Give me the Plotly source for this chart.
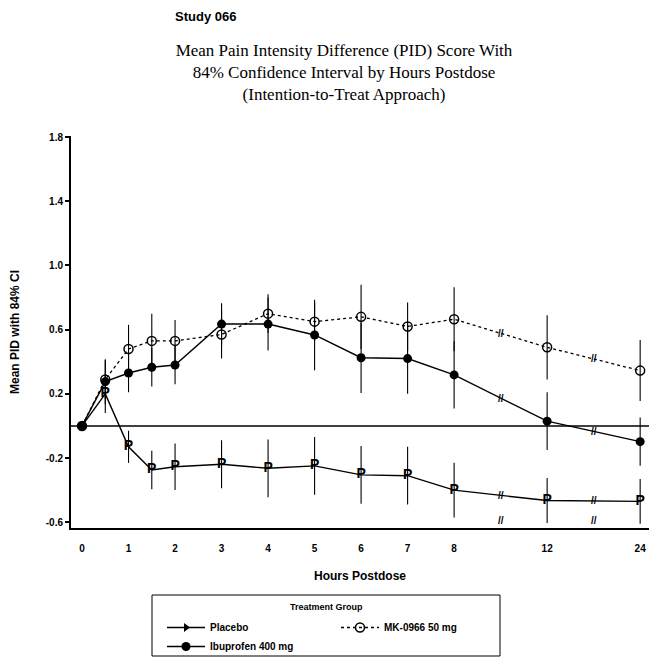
import plotly.graph_objects as go

# ---- data ----
hours = [0, 0.5, 1, 1.5, 2, 3, 4, 5, 6, 7, 8, 12, 24]
tick_hours = [0, 1, 2, 3, 4, 5, 6, 7, 8, 12, 24]

placebo = [0.0, 0.20, -0.13, -0.274, -0.254, -0.239, -0.264, -0.249, -0.305, -0.31, -0.40, -0.465, -0.47]
placebo_ci = [0.0, 0.12, 0.10, 0.12, 0.145, 0.15, 0.18, 0.18, 0.18, 0.18, 0.17, 0.14, 0.14]

ibuprofen = [0.0, 0.276, 0.33, 0.366, 0.38, 0.635, 0.635, 0.567, 0.425, 0.42, 0.318, 0.03, -0.098]
ibuprofen_ci = [0.0, 0.14, 0.12, 0.12, 0.12, 0.13, 0.165, 0.22, 0.22, 0.22, 0.21, 0.18, 0.15]

mk0966 = [0.0, 0.29, 0.48, 0.53, 0.53, 0.57, 0.70, 0.65, 0.68, 0.62, 0.665, 0.49, 0.345]
mk0966_ci = [0.0, 0.12, 0.15, 0.17, 0.13, 0.15, 0.12, 0.12, 0.2, 0.15, 0.2, 0.2, 0.19]


def axis_pos(h):
    # broken time axis: hours up to 8 are linear, 12 and 24 are placed 2 units apart
    if h <= 8:
        return h
    later = [t for t in tick_hours if t > 8]
    return 8 + 2 * (later.index(h) + 1)


xs = [axis_pos(h) for h in hours]
tick_pos = [axis_pos(h) for h in tick_hours]

BLACK = "black"
W, H = 649, 660
ML, MR, MT, MB = 71, 0, 136, 132
PW, PH = W - ML - MR, H - MT - MB


def px(x):  # pixel x -> paper x
    return (x - ML) / PW


def py(y):  # pixel y (from top) -> paper y
    return (H - MB - y) / PH


fig = go.Figure()

# zero reference line
fig.add_shape(type="line", xref="paper", x0=0, x1=1, yref="y", y0=0, y1=0,
              line=dict(color=BLACK, width=1.6))

# Placebo (line + error bars) drawn with "P" glyphs
fig.add_trace(go.Scatter(
    x=xs, y=placebo, mode="lines", showlegend=False,
    line=dict(color=BLACK, width=1.4),
    error_y=dict(type="data", array=placebo_ci, visible=True, color=BLACK, thickness=1.1, width=0),
))
fig.add_trace(go.Scatter(
    x=xs[1:], y=placebo[1:], mode="text", text=["P"] * (len(xs) - 1), showlegend=False,
    textfont=dict(family="Liberation Sans", size=14, color=BLACK, weight="bold"),
))
fig.add_trace(go.Scatter(
    x=[None], y=[None], mode="lines+markers", name="Placebo", legend="legend",
    line=dict(color=BLACK, width=1.4),
    marker=dict(symbol="triangle-right", size=8, color=BLACK),
))

# MK-0966 50 mg
fig.add_trace(go.Scatter(
    x=xs, y=mk0966, mode="lines+markers", name="MK-0966 50 mg", legend="legend2",
    line=dict(color=BLACK, width=1.3, dash="dot"),
    marker=dict(symbol="circle-open", size=9, color=BLACK, line=dict(width=1.5)),
    error_y=dict(type="data", array=mk0966_ci, visible=True, color=BLACK, thickness=1.1, width=0),
))

# Ibuprofen 400 mg
fig.add_trace(go.Scatter(
    x=xs, y=ibuprofen, mode="lines+markers", name="Ibuprofen 400 mg", legend="legend",
    line=dict(color=BLACK, width=1.4),
    marker=dict(symbol="circle", size=9, color=BLACK),
    error_y=dict(type="data", array=ibuprofen_ci, visible=True, color=BLACK, thickness=1.1, width=0),
))

# axis-break marks "//" between 8-12 and 12-24
break_font = dict(family="Liberation Sans", size=10, color=BLACK, weight="bold")
for i in range(len(hours) - 1):
    if hours[i] >= 8:
        xm = (xs[i] + xs[i + 1]) / 2
        for series in (placebo, ibuprofen, mk0966):
            ym = (series[i] + series[i + 1]) / 2
            fig.add_annotation(x=xm, y=ym, text="//", showarrow=False, font=break_font,
                               xref="x", yref="y")
        fig.add_annotation(x=xm, y=0, text="//", showarrow=False, font=break_font,
                           xref="x", yref="paper")

# header text
fig.add_annotation(x=px(173), y=py(17), xref="paper", yref="paper",
                   text="<b>Study 066</b>", showarrow=False, xanchor="left", yanchor="middle",
                   font=dict(family="Liberation Sans", size=13, color=BLACK))

# legend frame and title
fig.add_shape(type="rect", xref="paper", yref="paper",
              x0=px(152), x1=px(500), y0=py(656), y1=py(595),
              line=dict(color=BLACK, width=1), fillcolor="white", layer="below")
fig.add_annotation(x=px(326), y=py(607), xref="paper", yref="paper",
                   text="<b>Treatment Group</b>", showarrow=False,
                   xanchor="center", yanchor="middle",
                   font=dict(family="Liberation Sans", size=9, color=BLACK))

tick_font = dict(family="Liberation Sans", size=10, color=BLACK, weight="bold")
legend_font = dict(family="Liberation Sans", size=10, color=BLACK, weight="bold")

fig.update_layout(
    width=W, height=H,
    margin=dict(l=ML, r=MR, t=MT, b=MB, autoexpand=False),
    paper_bgcolor="white", plot_bgcolor="white",
    title=dict(
        text="Mean Pain Intensity Difference (PID) Score With<br>"
             "84% Confidence Interval by Hours Postdose<br>"
             "(Intention-to-Treat Approach)",
        x=344 / W, xanchor="center", xref="container",
        y=1 - 56 / H, yanchor="top", yref="container",
        font=dict(family="Liberation Serif", size=17, color=BLACK),
    ),
    xaxis=dict(
        range=[-0.237, 12.19], tickvals=tick_pos, ticktext=[str(h) for h in tick_hours],
        showgrid=False, zeroline=False, showline=True, linecolor=BLACK, linewidth=2,
        ticks="", ticklabelstandoff=10, tickfont=tick_font, automargin=False,
        title=dict(text="<b>Hours Postdose</b>", standoff=19,
                   font=dict(family="Liberation Sans", size=12, color=BLACK)),
    ),
    yaxis=dict(
        range=[-0.636, 1.807],
        tickvals=[-0.6, -0.2, 0.2, 0.6, 1.0, 1.4, 1.8],
        ticktext=["-0.6", "-0.2", "0.2", "0.6", "1.0", "1.4", "1.8"],
        showgrid=False, zeroline=False, showline=True, linecolor=BLACK, linewidth=2,
        ticks="outside", ticklen=4, tickwidth=1.5, tickcolor=BLACK, tickfont=tick_font,
        automargin=False,
        title=dict(text="<b>Mean PID with 84% CI</b>", standoff=24,
                   font=dict(family="Liberation Sans", size=12, color=BLACK)),
    ),
    legend=dict(
        orientation="v", x=px(162), xanchor="left", y=py(613), yanchor="top",
        borderwidth=0, bgcolor="rgba(0,0,0,0)", itemwidth=38, tracegroupgap=0,
        font=legend_font, traceorder="normal",
    ),
    legend2=dict(
        orientation="v", x=px(336), xanchor="left", y=py(613), yanchor="top",
        borderwidth=0, bgcolor="rgba(0,0,0,0)", itemwidth=38,
        font=legend_font,
    ),
)

fig.write_html("out.html", config={"displayModeBar": False},
               post_script="document.body.style.margin='0px';")
